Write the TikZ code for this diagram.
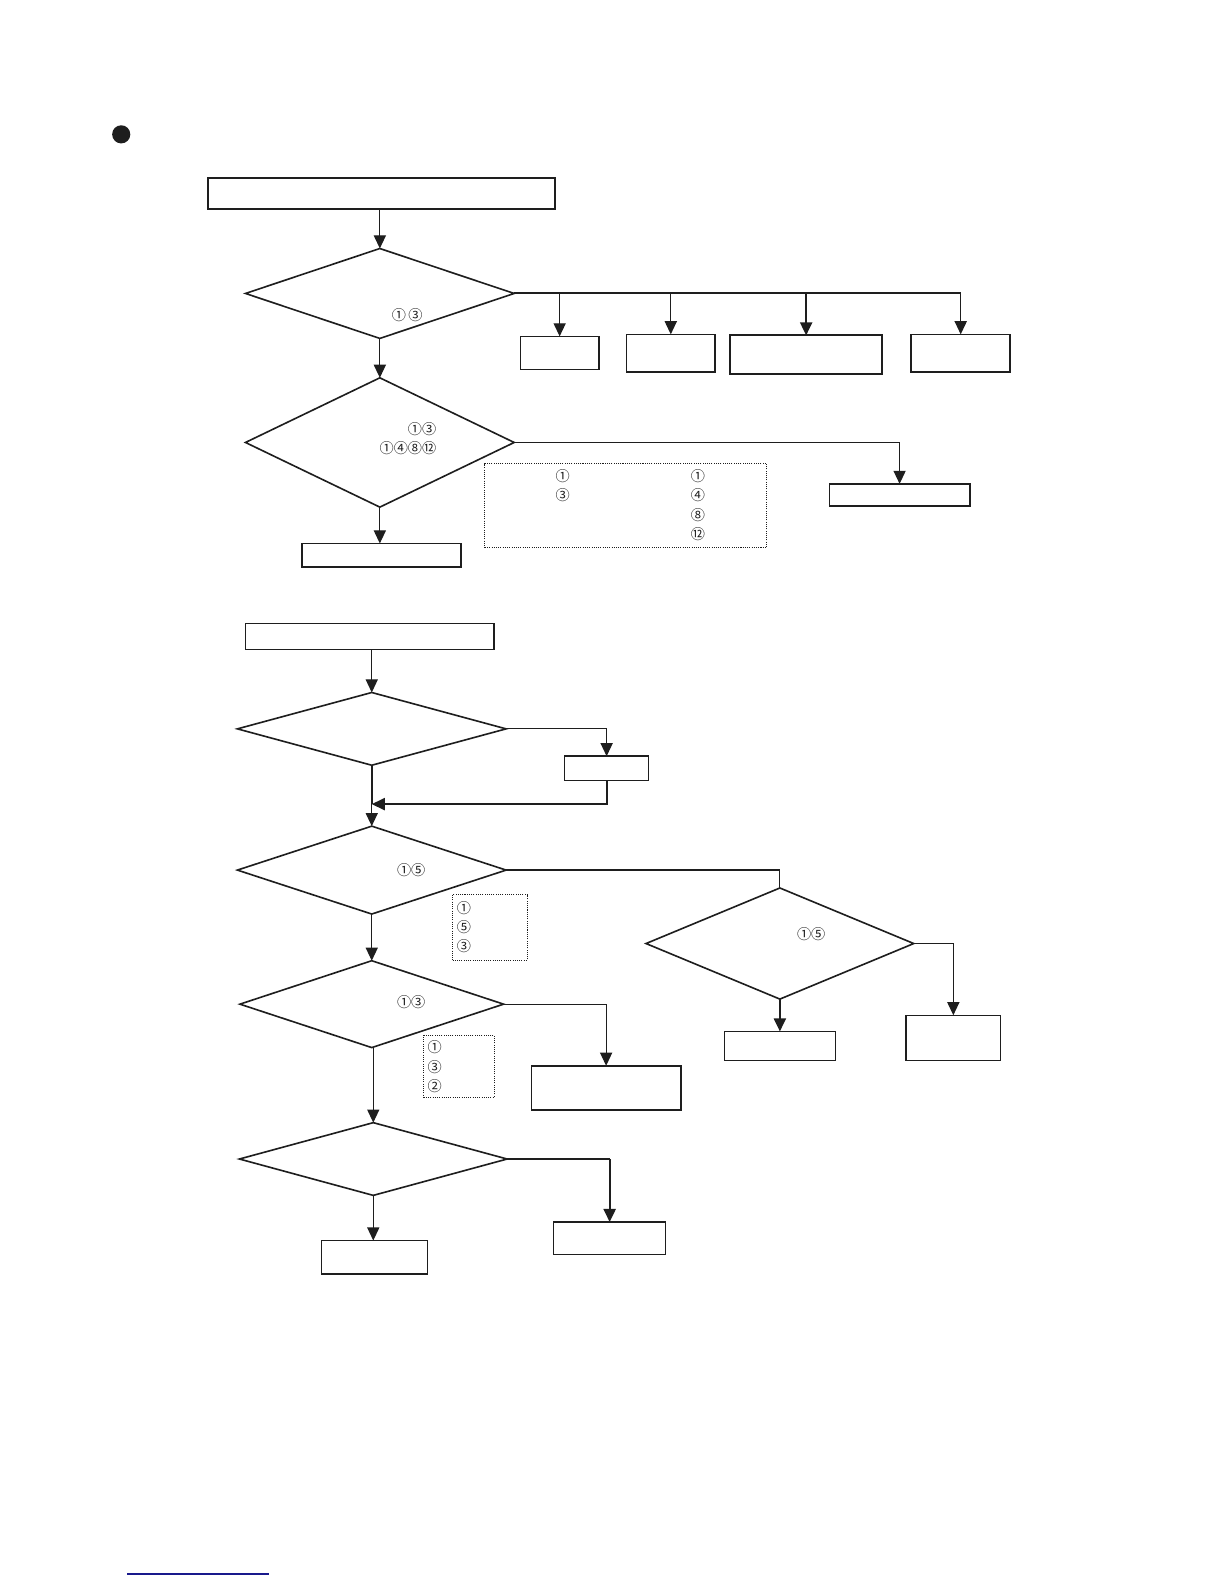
\documentclass[tikz,border=0pt]{standalone}
\usepackage{fontspec}
\newfontfamily\cjk{Noto Sans CJK JP}
\usetikzlibrary{arrows.meta,shapes.geometric}
\definecolor{ink}{RGB}{30,30,30}
\definecolor{navy}{RGB}{25,25,140}
\tikzset{
  box/.style={draw=ink,line width=1.5pt,rectangle,inner sep=0pt,outer sep=0pt},
  dia/.style={draw=ink,line width=1.6pt,diamond,inner sep=0pt,outer sep=0pt},
  dotbox/.style={draw=ink,line width=0.9pt,dash pattern=on 1pt off 1.2pt,rectangle,inner sep=0pt,outer sep=0pt},
  con/.style={draw=ink,line width=1.2pt},
  thk/.style={draw=ink,line width=2pt},
  arr/.style={-{Triangle[width=12pt,length=13pt]}},
  num/.style={font=\cjk\fontsize{14}{16}\selectfont,inner sep=0pt,text=ink},
}
\begin{document}
\begin{tikzpicture}[x=1pt,y=-1pt]
\useasboundingbox (0,0) rectangle (1212,1568);
% bullet
\fill[ink] (120,133) circle (9);
% ---------- section 1
\node[box,line width=2pt,minimum width=343pt,minimum height=31pt] (a) at (377.5,191.5) {};
\node[dia,minimum width=266pt,minimum height=89pt] (d1) at (376,290.5) {};
\node[num] (d1t) at (403,312) {①\,③};
\node[dia,minimum width=266pt,minimum height=128pt] (d2) at (376,438) {};
\node[num,anchor=east] (d2t1) at (432,425) {①③};
\node[num,anchor=east] (d2t2) at (432,444) {①④⑧⑫};
\node[box,minimum width=78pt,minimum height=33pt] (b1) at (554,349.5) {};
\node[box,minimum width=88pt,minimum height=37pt] (b2) at (664,349.5) {};
\node[box,line width=1.8pt,minimum width=150pt,minimum height=38pt] (b3) at (798,351) {};
\node[box,minimum width=98pt,minimum height=37pt] (b4) at (951,349.5) {};
\node[box,minimum width=139pt,minimum height=22pt] (b5) at (890.5,490) {};
\node[box,line width=1.8pt,minimum width=157pt,minimum height=23pt] (b6) at (377.5,549.5) {};
\node[dotbox,minimum width=279pt,minimum height=83pt] (n1) at (619.5,500.5) {};
\node[num] (n1a) at (557,471) {①};
\node[num] (n1b) at (557,490) {③};
\node[num] (n1c) at (691,471) {①};
\node[num] (n1d) at (691,490) {④};
\node[num] (n1e) at (691,510) {⑧};
\node[num] (n1f) at (691,529) {⑫};
\draw[con,arr] (a.south -| d1.north) -- (d1.north);
\draw[con,arr] (d1.south) -- (d2.north);
\draw[thk] (d1.east) -- (b4.north |- d1.east);
\draw[con,arr] (b1.north |- d1.east) -- (b1.north);
\draw[con,arr] (b2.north |- d1.east) -- (b2.north);
\draw[thk,arr] (b3.north |- d1.east) -- (b3.north);
\draw[con,arr] (b4.north |- d1.east) -- (b4.north);
\draw[con,arr] (d2.east) -| (b5.north);
\draw[con,arr] (d2.south) -- (d2.south |- b6.north);
% ---------- section 2
\node[box,minimum width=246pt,minimum height=26pt] (c) at (366,630) {};
\node[dia,minimum width=266pt,minimum height=72pt] (d3) at (368,721.5) {};
\node[box,minimum width=83pt,minimum height=24pt] (c1) at (600.5,760.6) {};
\coordinate (j1) at (368,796);
\node[dia,minimum width=266pt,minimum height=87pt] (d4) at (368,861.3) {};
\node[num] (d4t) at (407,861) {①⑤};
\node[dotbox,minimum width=74pt,minimum height=65pt] (n2) at (485,918) {};
\node[num,anchor=west] (n2a) at (452,899) {①};
\node[num,anchor=west] (n2b) at (452,918) {⑤};
\node[num,anchor=west] (n2c) at (452,937) {③};
\node[dia,minimum width=265pt,minimum height=110pt] (d6) at (772,934) {};
\node[num] (d6t) at (803,925) {①⑤};
\node[box,minimum width=110pt,minimum height=29pt] (c2) at (772,1035.5) {};
\node[box,minimum width=93.5pt,minimum height=45pt] (c3) at (943.7,1027.5) {};
\node[dia,minimum width=261pt,minimum height=86pt] (d5) at (368,994) {};
\node[num] (d5t) at (407,992) {①③};
\node[dotbox,minimum width=70pt,minimum height=61pt] (n3) at (454.5,1055.5) {};
\node[num,anchor=west] (n3a) at (423,1037) {①};
\node[num,anchor=west] (n3b) at (423,1056.5) {③};
\node[num,anchor=west] (n3c) at (423,1075.5) {②};
\node[box,minimum width=148pt,minimum height=44pt] (c4) at (600,1077) {};
\node[dia,minimum width=265pt,minimum height=72pt] (d7) at (369.5,1147.3) {};
\node[box,minimum width=104.5pt,minimum height=33pt] (c5) at (370.7,1244.5) {};
\node[box,minimum width=111pt,minimum height=32pt] (c6) at (603.5,1225.7) {};
\draw[con,arr] (c.south -| d3.north) -- (d3.north);
\draw[con,arr] (d3.east) -| (c1.north);
\draw[thk] (d3.south) -- (j1);
\draw[thk,arr] (c1.south) |- (j1);
\draw[con,arr] (j1) -- (d4.north);
\draw[con] (d4.east) -| (d6.north);
\draw[con,arr] (d4.south) -- (d5.north);
\draw[thk,arr] (d6.south) -- (c2.north);
\draw[con,arr] (d6.east) -| (c3.north);
\draw[con,arr] (d5.east) -| (c4.north);
\draw[con,arr] (d5.south -| d7.north) -- (d7.north);
\draw[con,arr] (d7.south) -- (d7.south |- c5.north);
\draw[con] (d7.east) -- (d7.east -| c6.north);
\draw[thk,arr] (d7.east -| c6.north) -- (c6.north);
% bottom rule
\draw[navy,line width=1.6pt] (126,1558) -- (266,1558);
\end{tikzpicture}
\end{document}
